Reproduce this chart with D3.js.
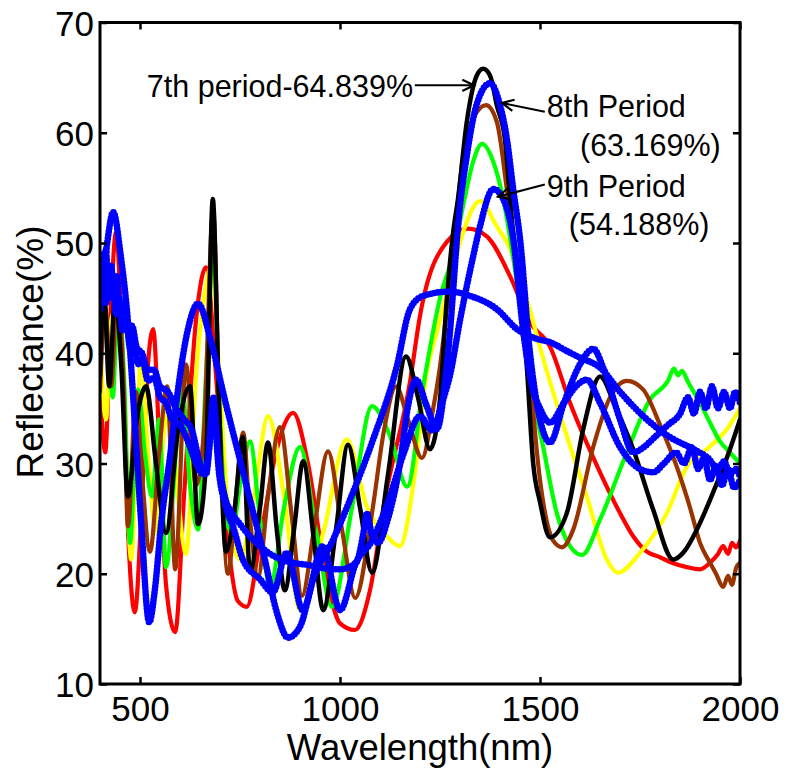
<!DOCTYPE html>
<html><head><meta charset="utf-8">
<script src="https://cdn.jsdelivr.net/npm/d3@7"></script>
<style>body{margin:0;background:#fff}svg{display:block}</style>
</head><body>
<svg id="c" width="789" height="772"></svg>
<script>
// ---------- data (wavelength nm, reflectance %) ----------
const xTicks = [500, 1000, 1500, 2000];
const yTicks = [10, 20, 30, 40, 50, 60, 70];

const red = [[400,37.5],[413,31],[428,45],[440,51],[455,41],[470,24],[487,16.5],[505,27],[520,39],[533,42.2],[548,32],[565,19],[588,14.7],[610,27],[640,43],[665,47.8],[690,38],[720,23],[745,17.5],[767,17],[800,23],[840,31],[883,34.6],[920,30],[960,21],[1000,15.5],[1037,14.9],[1075,18.5],[1112,26.7],[1175,37.4],[1200,43.4],[1267,50.1],[1320,51.3],[1367,50.6],[1425,47],[1475,42.8],[1525,40.6],[1575,35.5],[1650,29.2],[1700,25.5],[1733,23.4],[1767,22],[1800,21.5],[1830,21],[1867,20.6],[1900,20.4],[1925,21],[1945,21.8],[1958,22.5],[1970,21.8],[1980,22.8],[1990,22.4],[2000,23]];

const yellow = [[400,41],[415,34],[428,43],[440,44],[458,37],[478,21.3],[492,33],[503,39.7],[520,31],[540,23.7],[560,33],[575,35],[595,27],[615,21.8],[640,38],[660,45],[680,48],[700,37],[725,24],[750,21.3],[785,27],[820,34.3],[860,27],[900,16.7],[960,24],[1017,32.2],[1067,26.1],[1117,23.4],[1150,22.5],[1183,28],[1217,38.3],[1242,41.9],[1275,46.5],[1308,51],[1350,53.8],[1392,51.5],[1425,49.5],[1467,44.9],[1508,39.5],[1567,32.5],[1617,27],[1667,21.3],[1695,20.1],[1750,21.9],[1817,25.5],[1867,29.7],[1917,31.3],[1967,33.1],[2000,35]];

const green = [[400,37.5],[410,44],[420,41],[432,36],[445,45],[460,38],[475,22.8],[495,36.7],[512,31],[530,27],[548,34],[565,20.6],[590,31],[605,37],[625,28],[645,24],[665,38],[683,49.6],[698,36],[715,25],[730,23.7],[750,28],[775,32],[800,25],[825,18.8],[860,26],[900,31.5],[940,24],[980,17],[1030,26],[1080,35.2],[1125,32.5],[1168,27.9],[1208,37],[1250,45],[1283,49],[1308,53.4],[1333,57.4],[1355,59],[1383,57.4],[1408,54],[1440,47],[1465,41],[1483,36],[1508,31.5],[1542,25.5],[1575,22.5],[1605,21.7],[1650,24.9],[1717,31],[1775,35.8],[1820,37.5],[1835,38.6],[1845,38],[1855,38.4],[1870,37.4],[1900,35.5],[1925,33.7],[1950,32],[1975,31],[2000,30]];

const brown = [[400,36.5],[413,44],[428,37],[443,46],[458,38],[470,24.3],[490,36.5],[505,29],[525,22],[548,31],[568,37],[588,20.4],[615,39],[640,28],[660,33],[683,53],[698,35],[720,20],[740,27],[758,32.8],[775,25],[795,19.7],[820,27],[850,33.3],[880,25],[905,18],[935,24],[970,31.1],[1005,24],[1038,17.8],[1080,25.5],[1110,33],[1140,37],[1170,34],[1205,30.5],[1233,35],[1250,38.8],[1270,45],[1290,52],[1308,57.9],[1333,61.3],[1365,62.5],[1392,61],[1417,54.9],[1433,50.4],[1475,37.6],[1500,28.5],[1533,23],[1555,22.4],[1583,24],[1633,31.5],[1675,36],[1717,37.5],[1758,36.7],[1800,33.5],[1842,29.7],[1875,26],[1900,22.8],[1925,21],[1940,20],[1958,18.8],[1970,19.8],[1980,19],[1990,20.5],[2000,21]];

const black = [[400,38],[410,46],[423,37],[438,45.5],[453,39],[470,27],[492,34],[515,37],[540,30],[565,23.7],[595,33],[625,37],[645,24.5],[665,30],[682,54],[697,36],[715,22],[737,26],[757,32.4],[775,20.2],[800,26],[820,31.9],[842,24],[862,18.5],[885,24],[908,30.2],[935,23],[958,16.7],[990,24],[1020,31.7],[1050,26],[1080,20.1],[1120,29],[1165,39.7],[1195,36],[1225,31.3],[1250,35.8],[1267,44.9],[1283,51],[1295,54],[1317,61],[1342,65.2],[1358,65.8],[1375,65.2],[1392,62.5],[1412,59.5],[1430,52],[1450,46],[1467,38.8],[1483,30],[1500,26.5],[1525,23.3],[1567,25.5],[1608,33.1],[1650,37.9],[1690,35],[1733,31.3],[1783,25.8],[1833,21.3],[1860,22],[1892,24],[1933,27.4],[1975,31.3],[2000,34]];

const blueBroad = [[400,44],[408,47],[418,50],[433,52.8],[452,48.8],[470,42.8],[487,33.7],[503,24.6],[523,15.6],[537,18.5],[553,24.6],[575,30.6],[595,36.7],[620,42.2],[645,44.5],[678,41],[712,35.8],[762,28.6],[812,21.3],[842,16.5],[870,14.2],[900,15.2],[933,19.5],[983,23.1],[1025,26.7],[1083,32.2],[1142,38.8],[1175,44],[1208,45.2],[1275,45.6],[1325,45.2],[1392,44],[1442,42.2],[1492,41.3],[1525,41],[1567,40.2],[1600,39.6],[1650,38.7],[1700,36.5],[1758,34.3],[1820,32.5],[1883,31.3],[1920,30.5],[1945,29.5],[1960,30.2],[1975,29],[1990,29.5],[2000,28.8]];

const blue8 = [[400,48],[405,45],[410,47.5],[415,44.5],[420,48],[425,45],[432,47],[440,43.5],[448,45],[456,42],[465,43],[475,40.5],[485,41],[495,39],[505,39.5],[520,37.5],[535,37.8],[550,36],[565,35.5],[580,34],[600,33.5],[620,32],[640,30],[660,29],[672,31],[683,36],[695,31],[712,27],[730,25.5],[750,24.5],[775,23.4],[800,22.5],[840,21.5],[880,21],[920,20.8],[960,20.5],[1000,20.4],[1040,21],[1060,24],[1067,25.5],[1080,23.5],[1095,22.8],[1120,25],[1150,30],[1170,35.2],[1190,37.6],[1217,35.2],[1242,33.1],[1270,40],[1300,53.4],[1317,57.9],[1333,61.3],[1355,63.8],[1375,64.5],[1400,62.5],[1417,59.5],[1433,54.9],[1450,50.4],[1475,40],[1500,34],[1525,31.9],[1560,35.5],[1600,39],[1633,40.4],[1660,38.5],[1700,34],[1733,31],[1760,31.5],[1790,32.5],[1820,33.5],[1850,34.5],[1870,36],[1885,34.5],[1900,36.5],[1915,35],[1930,37],[1945,35],[1960,36.5],[1975,35],[1988,36.5],[2000,35.5]];

const blue9 = [[400,46],[405,49],[410,46.5],[415,49.5],[420,46],[428,48],[435,45],[442,47],[450,43.5],[460,44.5],[470,42],[480,42.5],[492,40.5],[505,40],[520,38.5],[535,38.5],[550,37],[570,36.5],[590,35],[610,34],[630,33],[650,30],[665,29],[683,35],[698,29],[715,26],[735,24],[757,21.3],[800,19.5],[832,18.3],[867,21.9],[907,16.7],[957,22.5],[1000,16.7],[1040,21],[1080,23],[1120,26.5],[1160,31],[1200,34.3],[1230,33],[1255,35.5],[1275,38],[1300,43],[1333,48.8],[1350,51.5],[1383,54.9],[1408,54],[1433,50.4],[1458,42],[1480,37],[1500,35],[1525,33.7],[1560,35.5],[1590,37],[1617,37.6],[1650,35.5],[1700,31.5],[1750,29.5],[1783,29.2],[1810,30],[1840,31],[1860,30],[1880,31.5],[1895,29.5],[1910,30.5],[1925,28.5],[1940,29.8],[1955,28],[1970,29.5],[1985,27.8],[2000,28.5]];

const annotations = [
  {text:"7th period-64.839%", tx:517, ty:63.2, tail:[1187,64.3], tip:[1335,64.3]},
  {text:"8th Period", tx:1517, ty:61.4, tail:[1512,61.9], tip:[1405,62.7]},
  {text:"(63.169%)", tx:1600, ty:57.9},
  {text:"9th Period", tx:1517, ty:54.2, tail:[1512,55.3], tip:[1395,54.2]},
  {text:"(54.188%)", tx:1572, ty:50.7}
];

// ---------- drawing ----------
const svg = d3.select("#c");
const FONT = "'Liberation Sans', Arial, Helvetica, sans-serif";
const x = d3.scaleLinear().domain([400, 2000]).range([100, 740]);
const y = d3.scaleLinear().domain([10, 70]).range([684, 22.5]);

svg.append("defs").append("clipPath").attr("id","clip")
  .append("rect").attr("x",100).attr("y",22.5).attr("width",640).attr("height",661.5);

const line = d3.line().x(d => x(d[0])).y(d => y(d[1])).curve(d3.curveMonotoneX);

const series = [
  {data: red, color: "#ff0000", w: 4.2},
  {data: yellow, color: "#ffff00", w: 4.2},
  {data: green, color: "#00ff00", w: 4.2},
  {data: brown, color: "#993300", w: 4.2},
  {data: black, color: "#000000", w: 4.5},
  {data: blueBroad, color: "#0000ff", w: 4.6, dots: true},
  {data: blue8, color: "#0000ff", w: 4.6, dots: true},
  {data: blue9, color: "#0000ff", w: 4.6, dots: true}
];

const g = svg.append("g").attr("clip-path", "url(#clip)");
series.forEach(s => {
  g.append("path").attr("d", line(s.data)).attr("fill","none")
    .attr("stroke", s.color).attr("stroke-width", s.w)
    .attr("stroke-linejoin","round").attr("stroke-linecap","round");
  if (s.dots) {
    g.append("path").attr("d", line(s.data)).attr("fill","none")
      .attr("stroke", s.color).attr("stroke-width", 6.6)
      .attr("stroke-dasharray","0 3.4").attr("stroke-linecap","round");
  }
});

// axes (ticks inward, all four sides)
const fmt = d3.format("d");
const axB = svg.append("g").attr("transform","translate(0,684)")
  .call(d3.axisBottom(x).tickValues(xTicks).tickSizeInner(-7).tickSizeOuter(0).tickPadding(12).tickFormat(fmt));
const axT = svg.append("g").attr("transform","translate(0,22.5)")
  .call(d3.axisTop(x).tickValues(xTicks).tickSizeInner(-7).tickSizeOuter(0).tickFormat(""));
const axL = svg.append("g").attr("transform","translate(100,0)")
  .call(d3.axisLeft(y).tickValues(yTicks).tickSizeInner(-7).tickSizeOuter(0).tickPadding(6).tickFormat(fmt));
const axR = svg.append("g").attr("transform","translate(740,0)")
  .call(d3.axisRight(y).tickValues(yTicks).tickSizeInner(-7).tickSizeOuter(0).tickFormat(""));
[axB, axT, axL, axR].forEach(a => {
  a.select(".domain").remove();
  a.selectAll(".tick line").attr("stroke","#000").attr("stroke-width",2.5);
  a.selectAll("text").attr("font-family", FONT).attr("font-size", 35).attr("fill","#000");
});
axL.selectAll("text").attr("dy","0.36em");

svg.append("rect").attr("x",100).attr("y",22.5).attr("width",640).attr("height",661.5)
  .attr("fill","none").attr("stroke","#000").attr("stroke-width",3);

// axis titles
svg.append("text").attr("x", 420).attr("y", 760).attr("text-anchor","middle")
  .attr("font-family", FONT).attr("font-size", 36.5).text("Wavelength(nm)");
svg.append("text").attr("transform","translate(43,352) rotate(-90)").attr("text-anchor","middle")
  .attr("font-family", FONT).attr("font-size", 37).text("Reflectance(%)");

// annotations
annotations.forEach(a => {
  svg.append("text").attr("x", x(a.tx)).attr("y", y(a.ty))
    .attr("font-family", FONT).attr("font-size", 30.5).text(a.text);
  if (a.tip) {
    const x0 = x(a.tail[0]), y0 = y(a.tail[1]), x1 = x(a.tip[0]), y1 = y(a.tip[1]);
    svg.append("line").attr("x1",x0).attr("y1",y0).attr("x2",x1).attr("y2",y1)
      .attr("stroke","#000").attr("stroke-width",2);
    const ang = Math.atan2(y1 - y0, x1 - x0), L = 13, H = 0.45;
    const p1 = [x1 - L*Math.cos(ang - H), y1 - L*Math.sin(ang - H)];
    const p2 = [x1 - L*Math.cos(ang + H), y1 - L*Math.sin(ang + H)];
    svg.append("path").attr("d", `M${p1}L${x1},${y1}L${p2}`).attr("fill","none")
      .attr("stroke","#000").attr("stroke-width",2.2);
  }
});
</script>
</body></html>
